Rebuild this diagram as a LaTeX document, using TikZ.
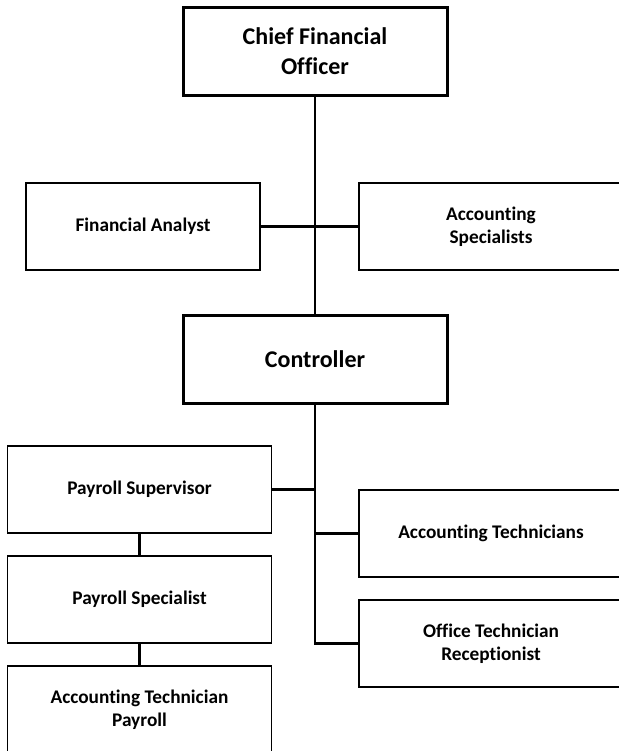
\documentclass[tikz,border=0pt]{standalone}
\usepackage{fontspec}
\setmainfont{Carlito}[Ligatures=NoCommon]
\begin{document}
\begin{tikzpicture}[x=1pt,y=-1pt,
  unit/.style={draw=black, line width=1.6pt, fill=white, minimum width=264pt,
    minimum height=87pt, align=center, inner sep=0pt,
    font=\fontsize{19.3}{23.5}\selectfont\bfseries},
  head/.style={unit, line width=3pt, minimum height=88pt,
    font=\fontsize{24}{30}\selectfont\bfseries},
  link/.style={line width=2.8pt}]
  \useasboundingbox (0,0) rectangle (618,751);

  % executive boxes
  \node[head] (cfo) at (315,51.5) {Chief Financial\\Officer};
  \node[head] (ctl) at (315,359) {Controller};

  % staff reporting to the CFO
  \node[unit, minimum width=234pt] (fa) at (143,226.5) {Financial Analyst};
  \node[unit] (as) at (491,226.5) {Accounting\\Specialists};

  % staff reporting to the controller
  \node[unit] (ps) at (139.5,489.5) {Payroll Supervisor};
  \node[unit] (psp) at (139.5,599.5) {Payroll Specialist};
  \node[unit] (atp) at (139.5,709.5) {Accounting Technician\\Payroll};
  \node[unit] (at) at (491,533.5) {Accounting Technicians};
  \node[unit] (otr) at (491,643.5) {Office Technician\\Receptionist};

  % connectors
  \draw[link] (cfo.south) -- (ctl.north);
  \draw[link] (fa.east) -- (as.west);
  \draw[link] (ctl.south) -- (otr.west -| ctl.south) -- (otr.west);
  \draw[link] (ps.east) -- (ps.east -| ctl.south);
  \draw[link] (at.west) -- (at.west -| ctl.south);
  \draw[link] (ps.south) -- (psp.north);
  \draw[link] (psp.south) -- (atp.north);
\end{tikzpicture}
\end{document}
